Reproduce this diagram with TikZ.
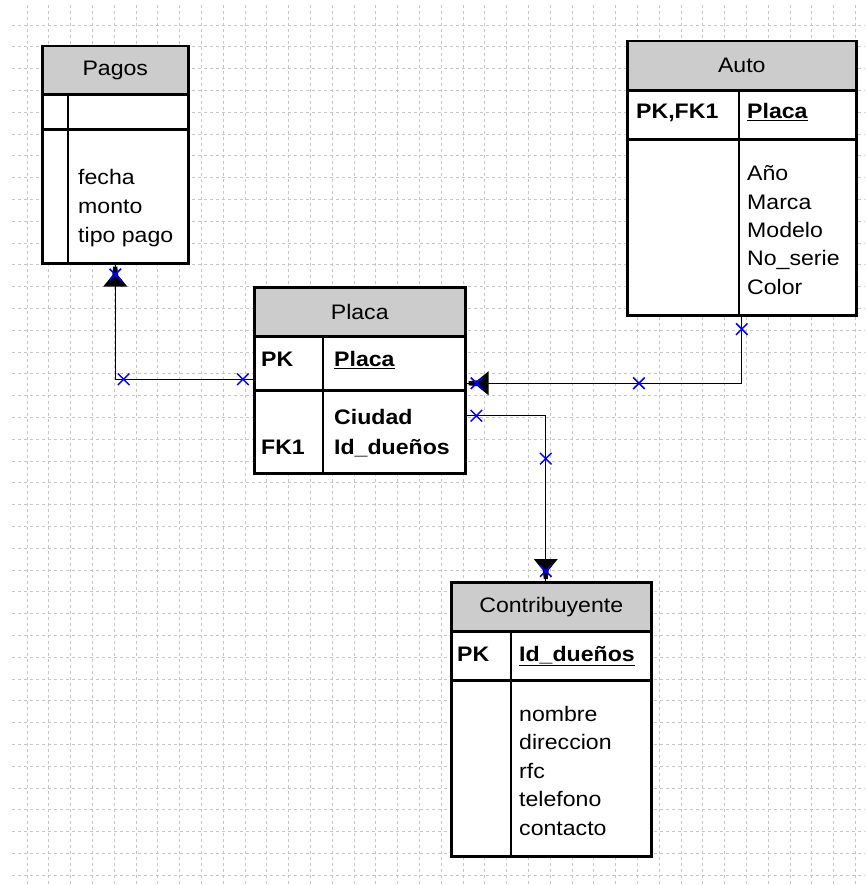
\documentclass[tikz,border=0pt]{standalone}
\usepackage{fontspec}
\setmainfont[FakeStretch=1.1]{Liberation Sans}
\usetikzlibrary{calc,shapes.misc}

\begin{document}
\begin{tikzpicture}[
  x = 1pt, y = -1pt,
  font = \fontsize{21}{25}\selectfont,
  grid line/.style = {draw = gray!45, line width = 0.8pt, dash pattern = on 3pt off 3pt},
  head/.style = {draw, fill = gray!40, line width = 1.5pt, anchor = north west, inner sep = 0pt},
  cell/.style = {draw, fill = white, line width = 1.5pt, anchor = north west, inner sep = 0pt},
  frame/.style = {draw, line width = 2.5pt},
  attr/.style = {anchor = base west, inner sep = 0pt},
  key/.style = {attr, font = \fontsize{21}{25}\selectfont\bfseries},
  link/.style = {draw, line width = 1.3pt},
  xmark/.style = {draw = blue, line width = 1.5pt, cross out, minimum size = 10pt, inner sep = 0pt},
  crowfoot/.pic = {
    \fill (-2,3) -- (2,3) -- (3,12) -- (12,23) -- (-12,23) -- (-3,12) -- cycle;
    \node[xmark] (-mk) at (0,11) {};
  },
  ]
  \useasboundingbox[fill = white] (0,0) rectangle (865,885);
  \foreach \gx in {0,...,38}
    \draw[grid line] (27+21.8*\gx,5) -- (27+21.8*\gx,885);
  \foreach \gy in {0,...,39}
    \draw[grid line] (12,25+21.8*\gy) -- (865,25+21.8*\gy);

  % Pagos
  \node[head, minimum width = 145pt, minimum height = 47pt] (pagos) at (42,46) {Pagos};
  \node[cell, minimum width = 145pt, minimum height = 34pt] (pagos key) at (pagos.south west) {};
  \node[cell, minimum width = 145pt, minimum height = 132pt] (pagos body) at (pagos key.south west) {};
  \draw[line width = 1.5pt] ($(pagos key.north west)+(26,0)$) -- ($(pagos body.south west)+(26,0)$);
  \draw[frame] (pagos.north west) rectangle (pagos body.south east);
  \foreach \a [count = \i from 0] in {fecha, monto, tipo pago}
    \node[attr] (pagos a\i) at ($(pagos body.north west)+(36,55+28.5*\i)$) {\a};

  % Auto
  \node[head, minimum width = 228pt, minimum height = 48pt] (auto) at (627,41) {Auto};
  \node[cell, minimum width = 228pt, minimum height = 48pt] (auto key) at (auto.south west) {};
  \node[cell, minimum width = 228pt, minimum height = 174pt] (auto body) at (auto key.south west) {};
  \draw[line width = 1.5pt] ($(auto key.north west)+(112,0)$) -- ($(auto body.south west)+(112,0)$);
  \draw[frame] (auto.north west) rectangle (auto body.south east);
  \node[key] (auto pk) at ($(auto key.north west)+(9,28)$) {PK,FK1};
  \node[key] (auto id) at ($(auto key.north west)+(120,28)$) {\underline{Placa}};
  \foreach \a [count = \i from 0] in {Año, Marca, Modelo, No\_serie, Color}
    \node[attr] (auto a\i) at ($(auto body.north west)+(120,41+28.3*\i)$) {\a};

  % Placa
  \node[head, minimum width = 210pt, minimum height = 48pt] (placa) at (254,287) {Placa};
  \node[cell, minimum width = 210pt, minimum height = 52pt] (placa key) at (placa.south west) {};
  \node[cell, minimum width = 210pt, minimum height = 82pt] (placa body) at (placa key.south west) {};
  \draw[line width = 1.5pt] ($(placa key.north west)+(69,0)$) -- ($(placa body.south west)+(69,0)$);
  \draw[frame] (placa.north west) rectangle (placa body.south east);
  \node[key] (placa pk) at ($(placa key.north west)+(7,30)$) {PK};
  \node[key] (placa id) at ($(placa key.north west)+(80,30)$) {\underline{Placa}};
  \node[key] (placa a0) at ($(placa body.north west)+(80,34)$) {Ciudad};
  \node[key] (placa a1) at ($(placa body.north west)+(80,64)$) {Id\_dueños};
  \node[key] (placa fk) at ($(placa body.north west)+(7,64)$) {FK1};

  % Contribuyente
  \node[head, minimum width = 199pt, minimum height = 48pt] (contrib) at (451,582) {Contribuyente};
  \node[cell, minimum width = 199pt, minimum height = 47pt] (contrib key) at (contrib.south west) {};
  \node[cell, minimum width = 199pt, minimum height = 175pt] (contrib body) at (contrib key.south west) {};
  \draw[line width = 1.5pt] ($(contrib key.north west)+(60,0)$) -- ($(contrib body.south west)+(60,0)$);
  \draw[frame] (contrib.north west) rectangle (contrib body.south east);
  \node[key] (contrib pk) at ($(contrib key.north west)+(6,30)$) {PK};
  \node[key] (contrib id) at ($(contrib key.north west)+(68,30)$) {\underline{Id\_dueños}};
  \foreach \a [count = \i from 0] in {nombre, direccion, rfc, telefono, contacto}
    \node[attr] (contrib a\i) at ($(contrib body.north west)+(68,41+28.5*\i)$) {\a};

  % relaciones
  \draw[link] ($(placa key.west)+(0,16)$) -| (pagos body.south)
    node[xmark, pos = 0.04] (m1) {} node[xmark, pos = 0.47] (m2) {};
  \draw[link] (auto body.south) |- ($(placa key.east)+(0,20)$)
    node[xmark, pos = 0.1] (m3) {} node[xmark, pos = 0.686] (m4) {};
  \draw[link] ($(placa body.east)+(0,-16)$) -| ($(contrib.north)+(-5.5,0)$)
    node[xmark, pos = 0.068] (m5) {} node[xmark, pos = 0.629] (m6) {};
  \pic (c1) at (pagos body.south) {crowfoot};
  \pic[rotate = 90] (c2) at ($(placa key.east)+(0,20)$) {crowfoot};
  \pic[rotate = 180] (c3) at ($(contrib.north)+(-5.5,0)$) {crowfoot};
\end{tikzpicture}
\end{document}
